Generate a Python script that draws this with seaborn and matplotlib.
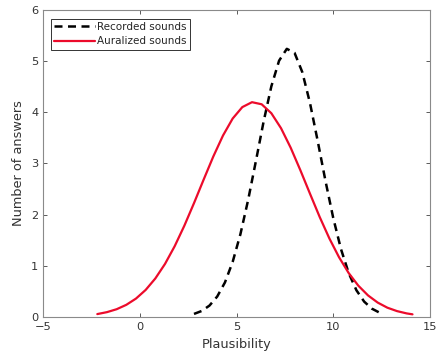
import numpy as np
import pandas as pd
import seaborn as sns
from matplotlib import pyplot as plt

# values
recorded_x = [2.8, 3.2, 3.6, 4.0, 4.4, 4.8, 5.2, 5.6, 6.0, 6.4, 6.8, 7.2, 7.6,
              8.0, 8.4, 8.8, 9.2, 9.6, 10.0, 10.4, 10.8, 11.2, 11.6, 12.0, 12.4]
recorded_y = [0.057, 0.115, 0.220, 0.397, 0.672, 1.074, 1.615, 2.285, 3.043, 3.817,
              4.506, 5.008, 5.240, 5.162, 4.786, 4.178, 3.434, 2.657, 1.935, 1.327,
              0.856, 0.520, 0.298, 0.160, 0.081]

auralized_x = [-2.2, -1.7, -1.2, -0.7, -0.2, 0.3, 0.8, 1.3, 1.8, 2.3, 2.8, 3.3, 3.8,
               4.3, 4.8, 5.3, 5.8, 6.3, 6.8, 7.3, 7.8, 8.3, 8.8, 9.3, 9.8, 10.3,
               10.8, 11.3, 11.8, 12.3, 12.8, 13.3, 13.8, 14.1]
auralized_y = [0.054, 0.092, 0.149, 0.235, 0.357, 0.526, 0.750, 1.034, 1.380, 1.781,
               2.223, 2.684, 3.136, 3.545, 3.877, 4.101, 4.197, 4.156, 3.981, 3.689,
               3.307, 2.868, 2.407, 1.953, 1.534, 1.166, 0.856, 0.609, 0.419, 0.279,
               0.179, 0.112, 0.067, 0.049]

series_names = ["Recorded sounds", "Auralized sounds"]
x_ticks = [-5, 0, 5, 10, 15]
y_ticks = [0, 1, 2, 3, 4, 5, 6]

sns.set_style("white")
plt.rcParams['font.family'] = ['DejaVu Sans']
plt.rcParams['font.size'] = 8

axis_grey = '#404040'

fig = plt.figure(figsize=(4.36, 3.56), dpi=100)
ax = fig.add_axes([0.099, 0.110, 0.887, 0.862])

df_rec = pd.DataFrame({"x": recorded_x, "y": recorded_y})
df_aur = pd.DataFrame({"x": auralized_x, "y": auralized_y})

sns.lineplot(data=df_rec, x="x", y="y", ax=ax, color='black', linewidth=1.8,
             linestyle=(0, (3.2, 2.2)), label=series_names[0], sort=False)
sns.lineplot(data=df_aur, x="x", y="y", ax=ax, color='#ec0b2b', linewidth=1.6,
             label=series_names[1], sort=False)

ax.set_xlim(-5, 15)
ax.set_ylim(0, 6)
ax.set_xticks(x_ticks)
ax.set_yticks(y_ticks)
ax.tick_params(direction='in', length=3, width=0.6, colors=axis_grey,
               labelsize=8.2, labelcolor='#333333', top=True, right=True,
               bottom=True, left=True)
ax.tick_params(axis='x', pad=4)
for spine in ax.spines.values():
    spine.set_visible(True)
    spine.set_color('#8a8a8a')
    spine.set_linewidth(0.8)

ax.set_xlabel("Plausibility", fontsize=9.3, color='#333333', labelpad=4)
ax.set_ylabel("Number of answers", fontsize=9.3, color='#333333', labelpad=4)

leg = ax.legend(loc='upper left', bbox_to_anchor=(0.012, 0.982), fontsize=7.5,
                handlelength=3.9, handletextpad=0.25, borderpad=0.3,
                labelspacing=0.45, fancybox=False, framealpha=1, borderaxespad=0.3)
leg.get_frame().set_edgecolor('#333333')
leg.get_frame().set_linewidth(0.7)

fig.savefig("out.png", dpi=100)
